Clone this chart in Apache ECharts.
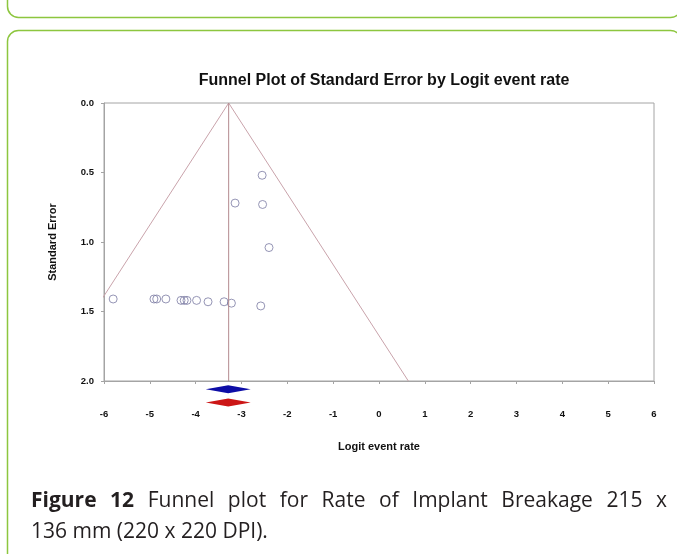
<!DOCTYPE html>
<html>
<head>
<meta charset="utf-8">
<script src="https://cdn.jsdelivr.net/npm/echarts@6/dist/echarts.min.js"></script>
<style>
  html, body { margin: 0; padding: 0; background: #fff; }
  #chart { position: absolute; left: 0; top: 0; width: 677px; height: 554px; }
  #caption {
    position: absolute; left: 31px; top: 484px; width: 636px;
    font-family: 'Open Sans', sans-serif; font-size: 21px; line-height: 31px; color: #231f20;
  }
  #caption .l1 { display: block; text-align: justify; text-align-last: justify; }
</style>
</head>
<body>
<div id="chart"></div>
<div id="caption"><span class="l1"><b>Figure 12</b> Funnel plot for Rate of Implant Breakage 215 x</span><span>136 mm (220 x 220 DPI).</span></div>
<script>
// Individual studies: logit event rate and its standard error
const studyLogit = [-2.55, -3.14, -2.54, -2.40, -5.80, -4.91, -4.85, -4.65, -4.32, -4.25, -4.19, -3.98, -3.73, -3.38, -3.22, -2.58];
const studySE    = [ 0.52,  0.72,  0.73,  1.04,  1.41,  1.41,  1.41,  1.41,  1.42,  1.42,  1.42,  1.42,  1.43,  1.43,  1.44,  1.46];

// Pooled estimate and the 95% pseudo-confidence funnel
const pooledLogit = -3.28;
const funnelLeft  = [[-3.28, 0], [-7.20, 2]];
const funnelRight = [[-3.28, 0], [ 0.64, 2]];

// Summary diamonds (lower, estimate, upper) drawn beneath the axis
const diamondLower = [-3.78, -3.78];
const diamondEst   = [-3.29, -3.29];
const diamondUpper = [-2.80, -2.80];
const diamondRow   = [2.06, 2.155];
const diamondColor = ['#0d0da6', '#cc1616'];

// Axis ticks
const xTicks = [-6, -5, -4, -3, -2, -1, 0, 1, 2, 3, 4, 5, 6];
const yTicks = [0.0, 0.5, 1.0, 1.5, 2.0];

const axisGray = '#a4a4a4';
const funnelColor = '#c9a3ab';
const green = '#8dc63f';

const chart = echarts.init(document.getElementById('chart'));

chart.setOption({
  backgroundColor: '#ffffff',
  animation: false,
  title: {
    text: 'Funnel Plot of Standard Error by Logit event rate',
    left: 379,
    textAlign: 'center',
    top: 68,
    textStyle: { fontFamily: 'Liberation Sans', fontSize: 16, fontWeight: 'bold', color: '#111' }
  },
  graphic: [
    { type: 'rect', silent: true, shape: { x: 7.5, y: -40, width: 674, height: 57.5, r: 11 },
      style: { fill: 'none', stroke: green, lineWidth: 1.5 } },
    { type: 'rect', silent: true, shape: { x: 7.5, y: 30.5, width: 674, height: 600, r: 11 },
      style: { fill: 'none', stroke: green, lineWidth: 1.5 } }
  ],
  grid: {
    left: 104, right: 23, top: 103, bottom: 173,
    show: true, borderColor: axisGray, borderWidth: 1, backgroundColor: 'transparent'
  },
  xAxis: {
    type: 'value',
    min: xTicks[0], max: xTicks[xTicks.length - 1], interval: 1,
    name: 'Logit event rate',
    nameLocation: 'middle',
    nameGap: 60,
    nameTextStyle: { fontFamily: 'Liberation Sans', fontSize: 11, fontWeight: 'bold', color: '#111' },
    axisLine: { show: true, onZero: false, lineStyle: { color: axisGray, width: 1 } },
    axisTick: { show: true, inside: false, length: 3, lineStyle: { color: axisGray } },
    axisLabel: { margin: 28, fontFamily: 'Liberation Sans', fontSize: 9.5, fontWeight: 'bold', color: '#111',
      formatter: v => String(v) },
    splitLine: { show: false }
  },
  yAxis: {
    type: 'value',
    inverse: true,
    min: yTicks[0], max: yTicks[yTicks.length - 1], interval: 0.5,
    name: 'Standard Error',
    nameLocation: 'middle',
    nameRotate: 90,
    nameGap: 46,
    nameTextStyle: { fontFamily: 'Liberation Sans', fontSize: 11, fontWeight: 'bold', color: '#111' },
    axisLine: { show: true, onZero: false, lineStyle: { color: axisGray, width: 1 } },
    axisTick: { show: true, inside: false, length: 3, lineStyle: { color: axisGray } },
    axisLabel: { margin: 10, fontFamily: 'Liberation Sans', fontSize: 9.5, fontWeight: 'bold', color: '#111',
      formatter: v => v.toFixed(1) },
    splitLine: { show: false }
  },
  series: [
    {
      name: 'Funnel left',
      type: 'line',
      data: funnelLeft,
      symbol: 'none',
      clip: true,
      lineStyle: { color: funnelColor, width: 1 }
    },
    {
      name: 'Funnel right',
      type: 'line',
      data: funnelRight,
      symbol: 'none',
      clip: true,
      lineStyle: { color: funnelColor, width: 1 }
    },
    {
      name: 'Pooled estimate',
      type: 'line',
      data: [[pooledLogit, yTicks[0]], [pooledLogit, yTicks[yTicks.length - 1]]],
      symbol: 'none',
      lineStyle: { color: '#b38a8f', width: 1 }
    },
    {
      name: 'Studies',
      type: 'scatter',
      data: studyLogit.map((x, i) => [x, studySE[i]]),
      symbol: 'circle',
      symbolSize: 8,
      itemStyle: { color: 'rgba(255,255,255,0)', borderColor: '#7a7aa2', borderWidth: 1 }
    },
    {
      name: 'Summary',
      type: 'custom',
      clip: false,
      encode: { x: [0, 1, 2], y: 3 },
      data: diamondEst.map((e, i) => ({
        value: [diamondLower[i], e, diamondUpper[i], diamondRow[i]],
        itemStyle: { color: diamondColor[i] }
      })),
      renderItem: (params, api) => {
        const row = api.value(3);
        const lo = api.coord([api.value(0), row]);
        const mid = api.coord([api.value(1), row]);
        const hi = api.coord([api.value(2), row]);
        const h = 4;
        return {
          type: 'polygon',
          shape: { points: [[lo[0], mid[1]], [mid[0], mid[1] - h], [hi[0], mid[1]], [mid[0], mid[1] + h]] },
          style: { fill: api.visual('color') }
        };
      }
    }
  ]
});
</script>
</body>
</html>
